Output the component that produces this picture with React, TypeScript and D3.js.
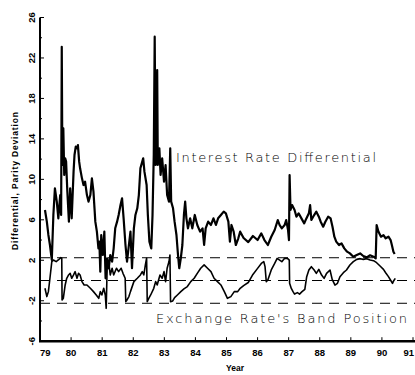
import { useEffect, useRef } from "react";
import * as d3 from "d3";

// Year ticks along the bottom
const yearTicks = [1979, 1980, 1981, 1982, 1983, 1984, 1985, 1986, 1987, 1988, 1989, 1990, 1991];
// Labelled y ticks and the minor ones in between
const yLabelTicks = [-6, -2, 2, 6, 10, 14, 18, 22, 26];
const yMinorTicks = [-4, 0, 4, 8, 12, 16, 20, 24];
// Band limits (+/- 2.25) and parity
const bandLevels = [2.25, 0, -2.25];

// Interest rate differential, [year, value]
const differential: [number, number][] = [
  [79.16, 6.97], [79.22, 5.82], [79.27, 4.5], [79.32, 3.51], [79.38, 2.03],
  [79.43, 6.48], [79.48, 9.11], [79.54, 7.8], [79.59, 6.15], [79.65, 8.45],
  [79.68, 6.48], [79.7, 23.11], [79.72, 11.42], [79.75, 15.04], [79.78, 10.43],
  [79.81, 12.08], [79.84, 11.75], [79.88, 8.78], [79.93, 5.82], [79.97, 9.11],
  [80.02, 6.15], [80.08, 10.76], [80.11, 12.41], [80.15, 13.23], [80.19, 13.07],
  [80.22, 13.39], [80.26, 11.75], [80.29, 11.09], [80.35, 10.1], [80.4, 9.44],
  [80.45, 9.77], [80.51, 8.45], [80.56, 7.8], [80.62, 8.45], [80.67, 10.1],
  [80.72, 8.78], [80.78, 5.82], [80.83, 4.83], [80.88, 3.18], [80.91, 3.84],
  [80.94, 0.88], [80.97, 4.5], [81.02, 2.52], [81.07, 4.83], [81.11, 0.22],
  [81.16, 2.2], [81.21, 1.21], [81.26, 2.52], [81.32, 1.87], [81.37, 3.18],
  [81.42, 5.16], [81.48, 5.82], [81.53, 6.48], [81.59, 7.47], [81.64, 8.12],
  [81.69, 6.15], [81.75, 3.51], [81.8, 1.87], [81.86, 3.51], [81.91, 4.83],
  [81.96, 1.21], [82.02, 5.16], [82.07, 6.48], [82.13, 7.14], [82.18, 8.45],
  [82.23, 11.09], [82.29, 11.75], [82.32, 12.08], [82.36, 10.76], [82.43, 9.44],
  [82.47, 6.48], [82.52, 3.84], [82.58, 3.18], [82.62, 6.48], [82.66, 12.41],
  [82.69, 24.1], [82.72, 11.42], [82.75, 13.07], [82.77, 20.8], [82.79, 11.42],
  [82.84, 13.07], [82.88, 10.43], [82.93, 12.08], [82.99, 9.77], [83.04, 11.42],
  [83.09, 8.45], [83.15, 7.8], [83.19, 13.07], [83.22, 7.8], [83.28, 7.14],
  [83.33, 5.82], [83.39, 4.5], [83.44, 2.52], [83.48, 1.21], [83.53, 2.2],
  [83.58, 3.51], [83.63, 6.48], [83.67, 7.8], [83.71, 6.15], [83.76, 5.16],
  [83.83, 6.15], [83.9, 5.16], [83.98, 6.48], [84.06, 5.49], [84.15, 4.83],
  [84.23, 5.16], [84.28, 3.51], [84.33, 5.16], [84.41, 5.82], [84.5, 5.49],
  [84.58, 6.15], [84.66, 5.49], [84.73, 6.15], [84.82, 6.48], [84.91, 6.81],
  [84.98, 6.64], [85.06, 5.82], [85.11, 3.84], [85.16, 5.49], [85.23, 4.83],
  [85.3, 3.51], [85.38, 4.17], [85.44, 4.83], [85.55, 4.2], [85.7, 3.8],
  [85.85, 4.4], [86.0, 4.0], [86.12, 4.66], [86.22, 4.0], [86.33, 3.51],
  [86.44, 4.33], [86.55, 4.99], [86.65, 5.98], [86.71, 5.48], [86.78, 5.15],
  [86.87, 5.48], [86.92, 5.98], [86.98, 4.99], [87.01, 4.0], [87.03, 10.42],
  [87.06, 6.97], [87.11, 7.46], [87.19, 6.97], [87.25, 6.31], [87.32, 6.64],
  [87.41, 6.14], [87.5, 5.65], [87.57, 6.14], [87.65, 6.64], [87.69, 7.46],
  [87.73, 5.98], [87.82, 6.47], [87.89, 6.8], [87.97, 6.31], [88.03, 5.81],
  [88.11, 5.32], [88.18, 5.81], [88.27, 6.31], [88.35, 6.14], [88.41, 5.32],
  [88.47, 4.33], [88.53, 3.84], [88.62, 3.51], [88.7, 3.67], [88.79, 3.18],
  [88.88, 2.85], [88.97, 2.68], [89.08, 2.35], [89.19, 2.52], [89.3, 2.68],
  [89.4, 2.42], [89.51, 2.29], [89.62, 2.49], [89.73, 2.35], [89.8, 2.19],
  [89.83, 5.48], [89.89, 4.82], [89.97, 4.33], [90.05, 4.49], [90.12, 4.17],
  [90.21, 4.33], [90.28, 4.0], [90.32, 3.51], [90.37, 2.85], [90.41, 2.62],
];

// Exchange rate's position inside the band, [year, value]
const bandPosition: [number, number][] = [
  [79.16, -0.77], [79.22, -1.59], [79.27, -1.1], [79.32, 0.22], [79.38, 1.87],
  [79.43, 2.03], [79.52, 1.87], [79.59, 2.03], [79.67, 2.26], [79.7, 2.2],
  [79.71, -1.92], [79.75, -1.76], [79.81, -0.44], [79.86, 0.22], [79.92, 0.55],
  [79.97, 0.71], [80.02, 0.22], [80.08, 0.55], [80.13, 0.88], [80.19, 0.22],
  [80.24, 0.71], [80.29, 0.55], [80.35, -0.11], [80.42, -0.44], [80.51, -0.44],
  [80.62, -0.77], [80.72, -1.1], [80.81, -1.43], [80.89, -1.76], [80.94, -1.1],
  [80.99, -1.43], [81.05, -0.77], [81.1, -1.43], [81.13, -2.75], [81.16, 1.21],
  [81.21, 1.87], [81.26, 0.55], [81.32, 1.21], [81.37, 0.55], [81.46, 1.21],
  [81.53, 0.88], [81.61, 1.21], [81.67, 0.71], [81.74, 0.22], [81.76, -2.09],
  [81.8, -1.92], [81.86, -1.59], [81.91, -1.1], [82.02, -0.11], [82.13, 0.22],
  [82.23, 0.55], [82.29, 0.88], [82.34, 0.55], [82.39, 1.54], [82.43, 2.2],
  [82.45, -2.09], [82.5, -1.76], [82.56, -1.43], [82.66, -0.77], [82.72, -0.11],
  [82.77, -0.44], [82.86, 0.55], [82.93, 0.22], [82.99, 0.88], [83.04, -0.11],
  [83.09, 1.21], [83.15, 1.87], [83.18, 2.52], [83.2, -2.09], [83.27, -2.02],
  [83.33, -1.69], [83.42, -1.43], [83.53, -1.1], [83.63, -0.83], [83.74, -0.6],
  [83.85, -0.11], [83.96, 0.22], [84.06, 0.71], [84.17, 1.21], [84.28, 1.54],
  [84.39, 1.21], [84.5, 0.88], [84.6, 0.22], [84.71, -0.11], [84.82, -0.44],
  [84.93, -1.1], [85.03, -1.76], [85.14, -1.59], [85.25, -1.1], [85.36, -1.1],
  [85.44, -0.77], [85.55, -0.5], [85.7, -0.2], [85.85, 0.6], [86.0, 1.2],
  [86.12, 1.69], [86.2, 1.86], [86.24, 1.37], [86.28, -0.12], [86.33, 0.05],
  [86.44, 1.04], [86.55, 1.69], [86.63, 2.19], [86.71, 2.02], [86.78, 1.86],
  [86.87, 2.19], [86.96, 2.19], [87.02, 2.02], [87.03, -0.28], [87.085, -0.78],
  [87.14, -1.1], [87.19, -1.34], [87.28, -1.2], [87.35, -1.34], [87.43, -1.1],
  [87.52, -0.87], [87.58, 0.38], [87.65, 1.04], [87.73, 1.37], [87.82, 1.04],
  [87.89, 0.71], [87.97, 1.1], [88.06, 0.54], [88.14, 0.21], [88.22, 0.71],
  [88.33, 1.04], [88.4, 0.11], [88.49, -0.45], [88.57, -0.28], [88.65, 0.38],
  [88.76, 0.77], [88.86, 1.04], [88.97, 1.53], [89.08, 1.86], [89.19, 2.09],
  [89.3, 2.16], [89.4, 2.09], [89.51, 2.16], [89.62, 2.02], [89.73, 1.96],
  [89.83, 1.76], [89.94, 1.43], [90.05, 1.1], [90.12, 0.77], [90.21, 0.38],
  [90.29, -0.02], [90.34, -0.28], [90.38, -0.02], [90.43, 0.21],
];

const tickFont = "'Liberation Sans', Arial, sans-serif";
const labelFont = "'DejaVu Sans', 'Noto Sans', sans-serif";

export default function App() {
  const svgRef = useRef<SVGSVGElement>(null);

  useEffect(() => {
    if (!svgRef.current) return;
    const width = 415;
    const height = 375;

    const svg = d3.select(svgRef.current);
    svg.selectAll("*").remove();
    svg.attr("width", width).attr("height", height);

    const x = d3.scaleLinear().domain([1979, 1991]).range([40, 413]);
    const y = d3.scaleLinear().domain([-6, 26]).range([341.2, 17.5]);
    const x0 = x(1979);
    const yBottom = y(-6);
    const lastYear = yearTicks[yearTicks.length - 1];

    // dashed band lines
    svg
      .selectAll(".band")
      .data(bandLevels)
      .enter()
      .append("line")
      .attr("x1", x0)
      .attr("x2", width)
      .attr("y1", (d) => y(d))
      .attr("y2", (d) => y(d))
      .attr("stroke", "#000")
      .attr("stroke-width", 1)
      .attr("stroke-dasharray", "10,7");

    const line = d3
      .line<[number, number]>()
      .x((d) => x(1900 + d[0]))
      .y((d) => y(d[1]));

    svg
      .append("path")
      .attr("d", line(differential))
      .attr("fill", "none")
      .attr("stroke", "#000")
      .attr("stroke-width", 2.2)
      .attr("stroke-linejoin", "round");

    svg
      .append("path")
      .attr("d", line(bandPosition))
      .attr("fill", "none")
      .attr("stroke", "#000")
      .attr("stroke-width", 1.6)
      .attr("stroke-linejoin", "round");

    // axes
    svg
      .append("line")
      .attr("x1", x0)
      .attr("x2", x0)
      .attr("y1", y(26))
      .attr("y2", yBottom)
      .attr("stroke", "#000")
      .attr("stroke-width", 2);
    svg
      .append("line")
      .attr("x1", x0 - 1)
      .attr("x2", width)
      .attr("y1", yBottom)
      .attr("y2", yBottom)
      .attr("stroke", "#000")
      .attr("stroke-width", 2.5);

    // y ticks
    svg
      .selectAll(".ytick")
      .data(yLabelTicks)
      .enter()
      .append("line")
      .attr("x1", x0)
      .attr("x2", x0 + 4)
      .attr("y1", (d) => y(d))
      .attr("y2", (d) => y(d))
      .attr("stroke", "#000")
      .attr("stroke-width", 1);
    svg
      .selectAll(".yminor")
      .data(yMinorTicks)
      .enter()
      .append("line")
      .attr("x1", x0)
      .attr("x2", x0 + 2)
      .attr("y1", (d) => y(d))
      .attr("y2", (d) => y(d))
      .attr("stroke", "#000")
      .attr("stroke-width", 1);

    svg
      .selectAll(".ylabel")
      .data(yLabelTicks)
      .enter()
      .append("text")
      .attr("transform", (d) => `translate(35,${y(d)}) rotate(-90)`)
      .attr("text-anchor", "middle")
      .attr("font-family", tickFont)
      .attr("font-weight", "bold")
      .attr("font-size", "9.5px")
      .text((d) => d);

    // x ticks
    svg
      .selectAll(".xtick")
      .data(yearTicks.slice(1))
      .enter()
      .append("line")
      .attr("x1", (d) => x(d))
      .attr("x2", (d) => x(d))
      .attr("y1", yBottom)
      .attr("y2", yBottom - 4)
      .attr("stroke", "#000")
      .attr("stroke-width", 1);

    // first label sits right of the axis, last one kept inside the frame
    svg
      .selectAll(".xlabel")
      .data(yearTicks)
      .enter()
      .append("text")
      .attr("x", (d) => (d === lastYear ? width - 1 : x(d)))
      .attr("y", 356)
      .attr("text-anchor", (d, i) =>
        i === 0 ? "start" : d === lastYear ? "end" : "middle",
      )
      .attr("font-family", tickFont)
      .attr("font-weight", "bold")
      .attr("font-size", "9.5px")
      .text((d) => String(d).slice(2));

    // axis titles
    svg
      .append("text")
      .attr("x", 235)
      .attr("y", 371)
      .attr("text-anchor", "middle")
      .attr("font-family", tickFont)
      .attr("font-weight", "bold")
      .attr("font-size", "8.5px")
      .text("Year");

    svg
      .append("text")
      .attr("transform", `translate(18,181) rotate(-90)`)
      .attr("text-anchor", "middle")
      .attr("font-family", tickFont)
      .attr("font-weight", "bold")
      .attr("font-size", "8.5px")
      .attr("textLength", 138)
      .attr("lengthAdjust", "spacing")
      .text("Differential, Parity Deviation");

    // series labels
    svg
      .append("text")
      .attr("x", 176)
      .attr("y", 162)
      .attr("font-family", labelFont)
      .attr("font-weight", 200)
      .attr("font-size", "13px")
      .attr("textLength", 200)
      .attr("lengthAdjust", "spacing")
      .text("Interest Rate Differential");

    svg
      .append("text")
      .attr("x", 156)
      .attr("y", 323)
      .attr("font-family", labelFont)
      .attr("font-weight", 200)
      .attr("font-size", "13px")
      .attr("textLength", 251)
      .attr("lengthAdjust", "spacing")
      .text("Exchange Rate's Band Position");
  }, []);

  return (
    <svg
      ref={svgRef}
      style={{ position: "absolute", left: 0, top: 0, background: "#fff" }}
    ></svg>
  );
}
